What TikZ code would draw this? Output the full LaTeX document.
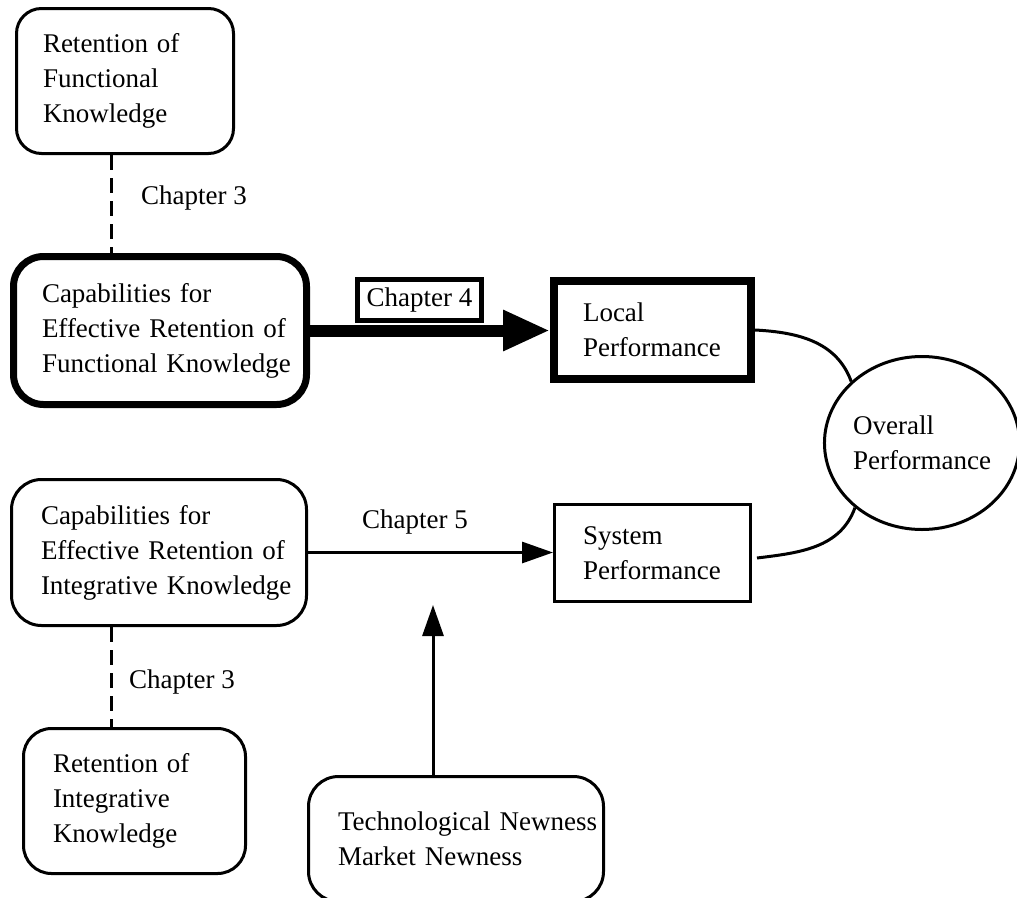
\documentclass[tikz,border=0pt]{standalone}
\usepackage{fontspec}
\setmainfont{Liberation Serif}
\usetikzlibrary{arrows.meta,shapes.geometric,calc}

\begin{document}
\begin{tikzpicture}[x=1pt,y=-1pt,
  txt/.style={font=\fontsize{27pt}{35pt}\selectfont, inner sep=0pt},
  box/.style={txt, draw, align=left, inner ysep=0pt},
  rbox/.style={box, rounded corners=#1},
  thin/.style={line width=3pt},
  dashline/.style={thin, dash pattern=on 15pt off 8pt},
  arr/.style={thin, -{Triangle[length=31pt,width=21pt]}},
]
\useasboundingbox (0,0) rectangle (1017,897);
\clip (0,0) rectangle (1017,897);

% knowledge retention boxes
\node[rbox=25pt, thin, minimum height=145pt, text width=164pt, inner xsep=26.5pt]
  (rfk) at (125,81) {Retention of\\Functional\\Knowledge};
\node[rbox=30pt, line width=7pt, minimum height=148pt, text width=236pt, inner xsep=28.5pt]
  (cfk) at (160,330.5) {\mbox{Capabilities for}\\\mbox{Effective Retention of}\\\mbox{Functional Knowledge}};
\node[rbox=30pt, thin, minimum height=146pt, text width=236pt, inner xsep=29.5pt]
  (cik) at (159,552.5) {\mbox{Capabilities for}\\\mbox{Effective Retention of}\\\mbox{Integrative Knowledge}};
\node[rbox=28pt, thin, minimum height=145pt, text width=163pt, inner xsep=29.5pt]
  (rik) at (134.5,801) {Retention of\\Integrative\\Knowledge};
\node[rbox=30pt, thin, minimum height=125pt, text width=236pt, inner xsep=29.5pt]
  (tech) at (456,839) {\mbox{Technological Newness}\\\mbox{Market Newness}};

% performance boxes
\node[box, line width=8pt, minimum height=98pt, text width=139pt, inner xsep=29pt]
  (local) at (652.5,330) {Local\\Performance};
\node[box, thin, minimum height=97pt, text width=139pt, inner xsep=28.5pt]
  (sys) at (652.5,553) {System\\Performance};
\node[txt, draw, thin, ellipse, align=left, minimum width=191pt, minimum height=173pt]
  (ov) at (922,443) {Overall\\Performance};

% labels
\node[txt, anchor=base west] (c3a) at (141,204) {Chapter 3};
\node[txt, anchor=base west] (c3b) at (129,688) {Chapter 3};
\node[txt, anchor=base west] (c5) at (362,528) {Chapter 5};
\node[txt, draw, line width=5pt, minimum width=124pt, minimum height=41pt]
  (c4) at (419.5,300) {Chapter 4};

% dashed links
\coordinate (dx) at (111,0);
\draw[dashline] (rfk.south -| dx) -- (cfk.north -| dx);
\draw[dashline] (cik.south -| dx) -- (rik.north -| dx);

% arrows
\draw[line width=12pt, -{Triangle[length=47pt,width=38pt]}] (cfk.east) -- (cfk.east -| local.west);
\draw[arr] (cik.east) -- (cik.east -| sys.west);
\coordinate (tip) at (433,605);
\draw[arr] (tech.north -| tip) -- (tip);

% links into overall performance
\draw[thin] (local.east) to[out=-3,in=110] (ov.139);
\draw[thin] ([shift={(5,5)}]sys.east) to[out=7,in=-110] (ov.224);
\end{tikzpicture}
\end{document}
